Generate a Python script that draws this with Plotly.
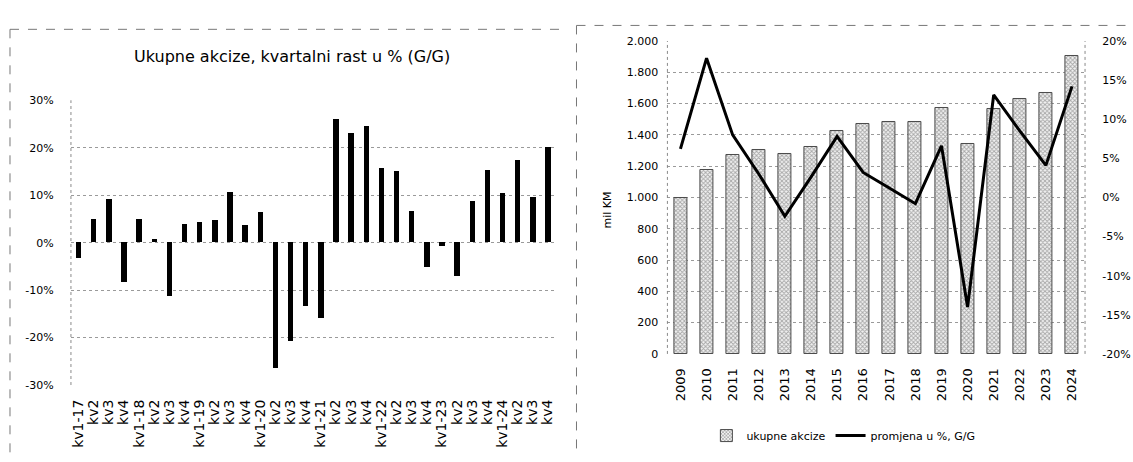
import plotly.graph_objects as go

W, H = 1133, 462

# ---------------- data ----------------
q_labels = ["kv1-17", "kv2", "kv3", "kv4",
            "kv1-18", "kv2", "kv3", "kv4",
            "kv1-19", "kv2", "kv3", "kv4",
            "kv1-20", "kv2", "kv3", "kv4",
            "kv1-21", "kv2", "kv3", "kv4",
            "kv1-22", "kv2", "kv3", "kv4",
            "kv1-23", "kv2", "kv3", "kv4",
            "kv1-24", "kv2", "kv3", "kv4"]
q_growth = [-3.3, 5.0, 9.1, -8.4,
            5.0, 0.8, -11.2, 3.8,
            4.2, 4.8, 10.7, 3.6,
            6.5, -26.4, -20.8, -13.4,
            -15.9, 26.0, 23.0, 24.5,
            15.7, 15.0, 6.7, -5.2,
            -0.8, -7.0, 8.8, 15.2,
            10.4, 17.3, 9.6, 20.1]
q_ticks = [30, 20, 10, 0, -10, -20, -30]
q_ticktext = ["30%", "20%", "10%", "0%", "-10%", "-20%", "-30%"]

years = ["2009", "2010", "2011", "2012", "2013", "2014", "2015", "2016",
         "2017", "2018", "2019", "2020", "2021", "2022", "2023", "2024"]
excise = [995, 1174, 1271, 1306, 1281, 1323, 1422, 1470,
          1483, 1480, 1571, 1343, 1565, 1627, 1669, 1902]
yoy = [6.2, 17.8, 8.0, 3.0, -2.4, 2.6, 7.8, 3.2,
       1.2, -0.8, 6.6, -14.0, 13.1, 8.5, 4.1, 14.2]
km_ticks = [0, 200, 400, 600, 800, 1000, 1200, 1400, 1600, 1800, 2000]
km_ticktext = ["0", "200", "400", "600", "800", "1.000", "1.200", "1.400",
               "1.600", "1.800", "2.000"]
pct_ticks = [20, 15, 10, 5, 0, -5, -10, -15, -20]
pct_ticktext = ["20%", "15%", "10%", "5%", "0%", "-5%", "-10%", "-15%", "-20%"]

title_left = "Ukupne akcize, kvartalni rast u % (G/G)"
name_bars = "ukupne akcize"
name_line = "promjena u %, G/G"
y_title_right = "mil KM"

# ---------------- helpers ----------------
def px_x(v):
    return v / W

def px_y(v):
    return 1 - v / H

FONT = "DejaVu Sans"
GRID = "#9a9a9a"

fig = go.Figure()

# Left chart: quarterly growth bars
fig.add_trace(go.Bar(
    x=list(range(len(q_growth))), y=q_growth,
    marker=dict(color="black", line=dict(width=0)),
    width=0.36, xaxis="x", yaxis="y", showlegend=False,
))

# Right chart: annual excise bars
fig.add_trace(go.Bar(
    x=years, y=excise, name=name_bars,
    marker=dict(color="white",
                line=dict(color="#4a4a4a", width=1),
                pattern=dict(shape="x", fgcolor="#5a5a5a", bgcolor="#f2f2f2",
                             size=3, solidity=0.5)),
    width=0.5, xaxis="x2", yaxis="y2",
))

# Right chart: yoy growth line
fig.add_trace(go.Scatter(
    x=years, y=yoy, name=name_line, mode="lines",
    line=dict(color="black", width=3),
    xaxis="x2", yaxis="y3",
))

left_dom_x = [px_x(70), px_x(555)]
left_dom_y = [px_y(390), px_y(97)]
right_dom_x = [px_x(667), px_x(1085)]
right_dom_y = [px_y(358), px_y(36)]

fig.update_layout(
    width=W, height=H, autosize=False,
    margin=dict(l=0, r=0, t=0, b=0),
    paper_bgcolor="white", plot_bgcolor="rgba(0,0,0,0)",
    font=dict(family=FONT, color="black", size=11),
    bargap=0,
    xaxis=dict(domain=left_dom_x, anchor="y", range=[-0.5, len(q_growth) - 0.5],
               tickvals=list(range(len(q_labels))), ticktext=q_labels,
               tickangle=-90, tickfont=dict(size=14, family=FONT),
               showgrid=False, zeroline=False, showline=False,
               ticks="outside", ticklen=8, tickcolor="rgba(0,0,0,0)"),
    yaxis=dict(domain=left_dom_y, anchor="x", range=[-30, 30],
               tickvals=q_ticks, ticktext=q_ticktext,
               tickfont=dict(size=11, family=FONT),
               showgrid=True, gridcolor=GRID, griddash="dot", gridwidth=1,
               zeroline=False, showline=False,
               ticks="outside", ticklen=14, tickcolor="rgba(0,0,0,0)"),
    xaxis2=dict(domain=right_dom_x, anchor="y2", type="category",
                range=[-0.5, len(years) - 0.5],
                tickangle=-90, tickfont=dict(size=13, family=FONT),
                showgrid=False, zeroline=False, showline=False,
                ticks="outside", ticklen=8, tickcolor="rgba(0,0,0,0)"),
    yaxis2=dict(domain=right_dom_y, anchor="x2", range=[0, 2000],
                tickvals=km_ticks, ticktext=km_ticktext,
                tickfont=dict(size=11, family=FONT),
                showgrid=True, gridcolor=GRID, griddash="dot", gridwidth=1,
                zeroline=False, showline=False,
                ticks="outside", ticklen=6, tickcolor="rgba(0,0,0,0)"),
    yaxis3=dict(overlaying="y2", anchor="x2", side="right", range=[-20, 20],
                tickvals=pct_ticks, ticktext=pct_ticktext,
                tickfont=dict(size=11, family=FONT),
                showgrid=False, zeroline=False, showline=False,
                ticks="outside", ticklen=14, tickcolor="rgba(0,0,0,0)"),
    legend=dict(orientation="h", x=px_x(706), y=px_y(442), xanchor="left",
                yanchor="middle", font=dict(size=11, family=FONT),
                bgcolor="rgba(0,0,0,0)", itemwidth=30,
                traceorder="normal"),
)

# Title of left chart
fig.add_annotation(text=title_left, xref="paper", yref="paper",
                   x=px_x(291), y=px_y(52), showarrow=False,
                   font=dict(size=16, family=FONT), xanchor="center",
                   yanchor="middle")
# Y title of right chart
fig.add_annotation(text=y_title_right, xref="paper", yref="paper",
                   x=px_x(607), y=px_y(210), showarrow=False, textangle=-90,
                   font=dict(size=11, family=FONT), xanchor="center",
                   yanchor="middle")

dot = dict(color="#8a8a8a", width=1, dash="dot")
shapes = [
    # left chart frame (top & left)
    dict(type="line", xref="paper", yref="paper", x0=px_x(9), x1=px_x(562),
         y0=px_y(24), y1=px_y(24), line=dict(color="#777", width=1, dash="dash")),
    dict(type="line", xref="paper", yref="paper", x0=px_x(9), x1=px_x(9),
         y0=px_y(24), y1=px_y(462), line=dict(color="#777", width=1, dash="dash")),
    # right chart frame (top & left)
    dict(type="line", xref="paper", yref="paper", x0=px_x(576), x1=px_x(1133),
         y0=px_y(20), y1=px_y(20), line=dict(color="#777", width=1, dash="dash")),
    dict(type="line", xref="paper", yref="paper", x0=px_x(576), x1=px_x(576),
         y0=px_y(20), y1=px_y(462), line=dict(color="#777", width=1, dash="dash")),
    # left chart vertical axis line
    dict(type="line", xref="paper", yref="paper", x0=left_dom_x[0], x1=left_dom_x[0],
         y0=left_dom_y[0], y1=left_dom_y[1], line=dot),
    # right chart vertical lines
    dict(type="line", xref="paper", yref="paper", x0=right_dom_x[0], x1=right_dom_x[0],
         y0=right_dom_y[0], y1=right_dom_y[1], line=dot),
    dict(type="line", xref="paper", yref="paper", x0=right_dom_x[1], x1=right_dom_x[1],
         y0=right_dom_y[0], y1=right_dom_y[1], line=dot),
]
fig.update_layout(shapes=shapes)

fig.write_html("out.html", config={"displayModeBar": False},
               post_script="document.body.style.margin='0';")
